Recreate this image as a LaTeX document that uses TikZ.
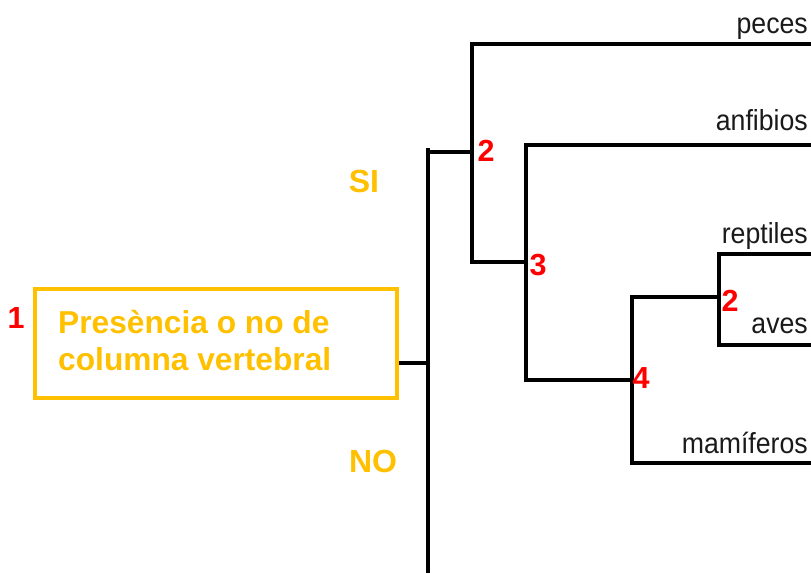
\documentclass[tikz,border=0pt]{standalone}
\usepackage{graphicx}
\usepackage{fontspec}
\setmainfont{Liberation Sans}
\definecolor{gold}{HTML}{FFC000}
\definecolor{redn}{HTML}{FF0000}
\definecolor{labelgray}{HTML}{1A1A1A}
\begin{document}
\begin{tikzpicture}[x=1pt,y=-1pt,
  branch/.style={line width=3.2pt, draw=black, line join=miter},
  taxon/.style={anchor=base east, inner sep=0pt, text=labelgray, font=\fontsize{29}{31}\selectfont},
  num/.style={anchor=center, inner sep=0pt, text=redn, font=\bfseries\fontsize{30.5}{32}\selectfont},
  answer/.style={anchor=center, inner sep=0pt, text=gold, font=\bfseries\fontsize{32}{34}\selectfont},
  keybox/.style={draw=gold, line width=4.5pt, minimum width=362pt, minimum height=109pt, inner sep=0pt},
  keytext/.style={inner sep=0pt, align=left, text=gold, font=\bfseries\fontsize{31.7}{37}\selectfont}]
\useasboundingbox (0,0) rectangle (811,573);

% key box
\node[keybox] (box) at (216,343.5) {};
\node[keytext, anchor=base west] (key) at (58,370) {Presència o no de\\columna vertebral};
\node[num] (k1) at (16,318) {1};

% junctions and ends
\coordinate (rtop) at (428,148);
\coordinate (rbot) at (428,573);
\coordinate (r) at (428,363);
\coordinate (rt) at (428,152);
\coordinate (n2) at (472,152);
\coordinate (n3) at (526,262);
\coordinate (n4) at (632,380);
\coordinate (n5) at (719,297);
\coordinate (ePeces) at (811,44);
\coordinate (eAnf) at (811,145);
\coordinate (eRep) at (811,254);
\coordinate (eAve) at (811,345);
\coordinate (eMam) at (811,463);

% branches
\draw[branch] (rtop) -- (rbot);
\draw[branch] (box.east |- r) -- (r);
\draw[branch] (rt) -- (n2);
\draw[branch] (ePeces) -| (n2) |- (n3);
\draw[branch] (eAnf) -| (n3) |- (n4);
\draw[branch] (n5) -| (n4) |- (eMam);
\draw[branch] (eRep) -| (n5) |- (eAve);

% answers
\node[answer] (si) at (364,181) {SI};
\node[answer] (no) at (373,461) {NO};

% node numbers
\node[num] (c2a) at (486,151) {2};
\node[num] (c3) at (538,265) {3};
\node[num] (c4) at (641,378) {4};
\node[num] (c2b) at (730,301) {2};

% taxa
\node[taxon] (peces) at (808,33) {\scalebox{0.92}[1]{peces}};
\node[taxon] (anf) at (808,130) {\scalebox{0.92}[1]{anfibios}};
\node[taxon] (rep) at (808,243) {\scalebox{0.92}[1]{reptiles}};
\node[taxon] (ave) at (808,333) {\scalebox{0.92}[1]{aves}};
\node[taxon] (mam) at (808,453) {\scalebox{0.92}[1]{mamíferos}};
\end{tikzpicture}
\end{document}
